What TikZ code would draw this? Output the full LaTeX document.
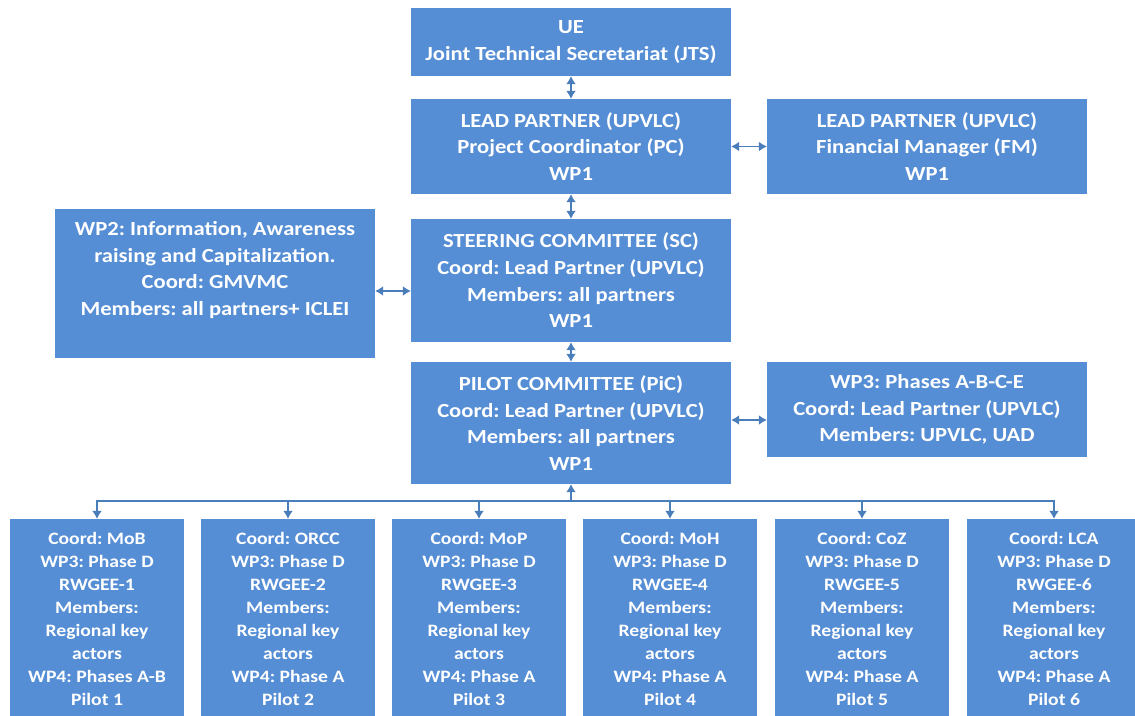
\documentclass[tikz,border=0pt]{standalone}
\usepackage{fontspec}
\setmainfont{Carlito}[FakeStretch=1.13]
\frenchspacing
\usetikzlibrary{arrows.meta}
\definecolor{boxblue}{RGB}{85,142,213}
\definecolor{connblue}{RGB}{74,126,187}
\tikzset{
  bigbox/.style={fill=boxblue, draw=none, text=white, align=center, inner sep=0pt,
    minimum width=320pt, font=\fontsize{20}{26.7}\selectfont\bfseries},
  smallbox/.style={fill=boxblue, draw=none, text=white, align=center, inner sep=0pt,
    minimum width=174pt, minimum height=200pt, font=\fontsize{17.4}{23.1}\selectfont\bfseries},
  boxtext/.style={text=white, align=center, inner sep=0pt, font=\fontsize{20}{26.7}\selectfont\bfseries},
  conn/.style={draw=connblue, line width=1.5pt},
  both/.style={conn, {Latex[length=8pt,width=10pt]}-{Latex[length=8pt,width=10pt]}},
  one/.style={conn, -{Latex[length=8pt,width=10pt]}}
}
\begin{document}
\begin{tikzpicture}[x=1pt,y=-1pt]
\useasboundingbox (0,0) rectangle (1135,715);
\begin{scope}
\clip (0,0) rectangle (1135,715);
\node[bigbox, minimum height=68pt] (ue) at (571,42) {UE\\Joint Technical Secretariat (JTS)};
\node[bigbox, minimum height=95pt] (pc) at (571,146.5) {LEAD PARTNER (UPVLC)\\Project Coordinator (PC)\\WP1};
\node[bigbox, minimum height=95pt] (fm) at (927,146.5) {LEAD PARTNER (UPVLC)\\Financial Manager (FM)\\WP1};
\node[bigbox, minimum height=123pt] (sc) at (571,280.5) {STEERING COMMITTEE (SC)\\Coord: Lead Partner (UPVLC)\\Members: all partners\\WP1};
\node[bigbox, minimum height=149pt] (wp2) at (215,283.5) {};
\node[boxtext] (wp2t) at (215,270) {WP2: Information, Awareness\\raising and Capitalization.\\Coord: GMVMC\\Members: all partners+ ICLEI};
\node[bigbox, minimum height=122pt] (pic) at (571,423) {PILOT COMMITTEE (PiC)\\Coord: Lead Partner (UPVLC)\\Members: all partners\\WP1};
\node[bigbox, minimum height=95pt] (wp3) at (927,409.5) {WP3: Phases A-B-C-E\\Coord: Lead Partner (UPVLC)\\Members: UPVLC, UAD};

\node[smallbox] (p1) at (97,619) {Coord: MoB\\WP3: Phase D\\RWGEE-1\\Members:\\Regional key\\actors\\WP4: Phases A-B\\Pilot 1};
\node[smallbox] (p2) at (288,619) {Coord: ORCC\\WP3: Phase D\\RWGEE-2\\Members:\\Regional key\\actors\\WP4: Phase A\\Pilot 2};
\node[smallbox] (p3) at (479,619) {Coord: MoP\\WP3: Phase D\\RWGEE-3\\Members:\\Regional key\\actors\\WP4: Phase A\\Pilot 3};
\node[smallbox] (p4) at (670,619) {Coord: MoH\\WP3: Phase D\\RWGEE-4\\Members:\\Regional key\\actors\\WP4: Phase A\\Pilot 4};
\node[smallbox] (p5) at (862,619) {Coord: CoZ\\WP3: Phase D\\RWGEE-5\\Members:\\Regional key\\actors\\WP4: Phase A\\Pilot 5};
\node[smallbox] (p6) at (1054,619) {Coord: LCA\\WP3: Phase D\\RWGEE-6\\Members:\\Regional key\\actors\\WP4: Phase A\\Pilot 6};
\end{scope}

\draw[both] (ue.south) -- (pc.north);
\draw[both] (pc.south) -- (sc.north);
\draw[both] (sc.south) -- (pic.north);
\draw[both] (pc.east) -- (fm.west);
\draw[both] (wp2.east |- 0,291) -- (sc.west |- 0,291);
\draw[both] (pic.east |- 0,420) -- (wp3.west |- 0,420);

\coordinate (bus) at (571,501);
\draw[one] (bus) -- (pic.south);
\foreach \p in {p1,p2,p3,p4,p5,p6}
  \draw[one] (bus) -| (\p.north);
\end{tikzpicture}
\end{document}
